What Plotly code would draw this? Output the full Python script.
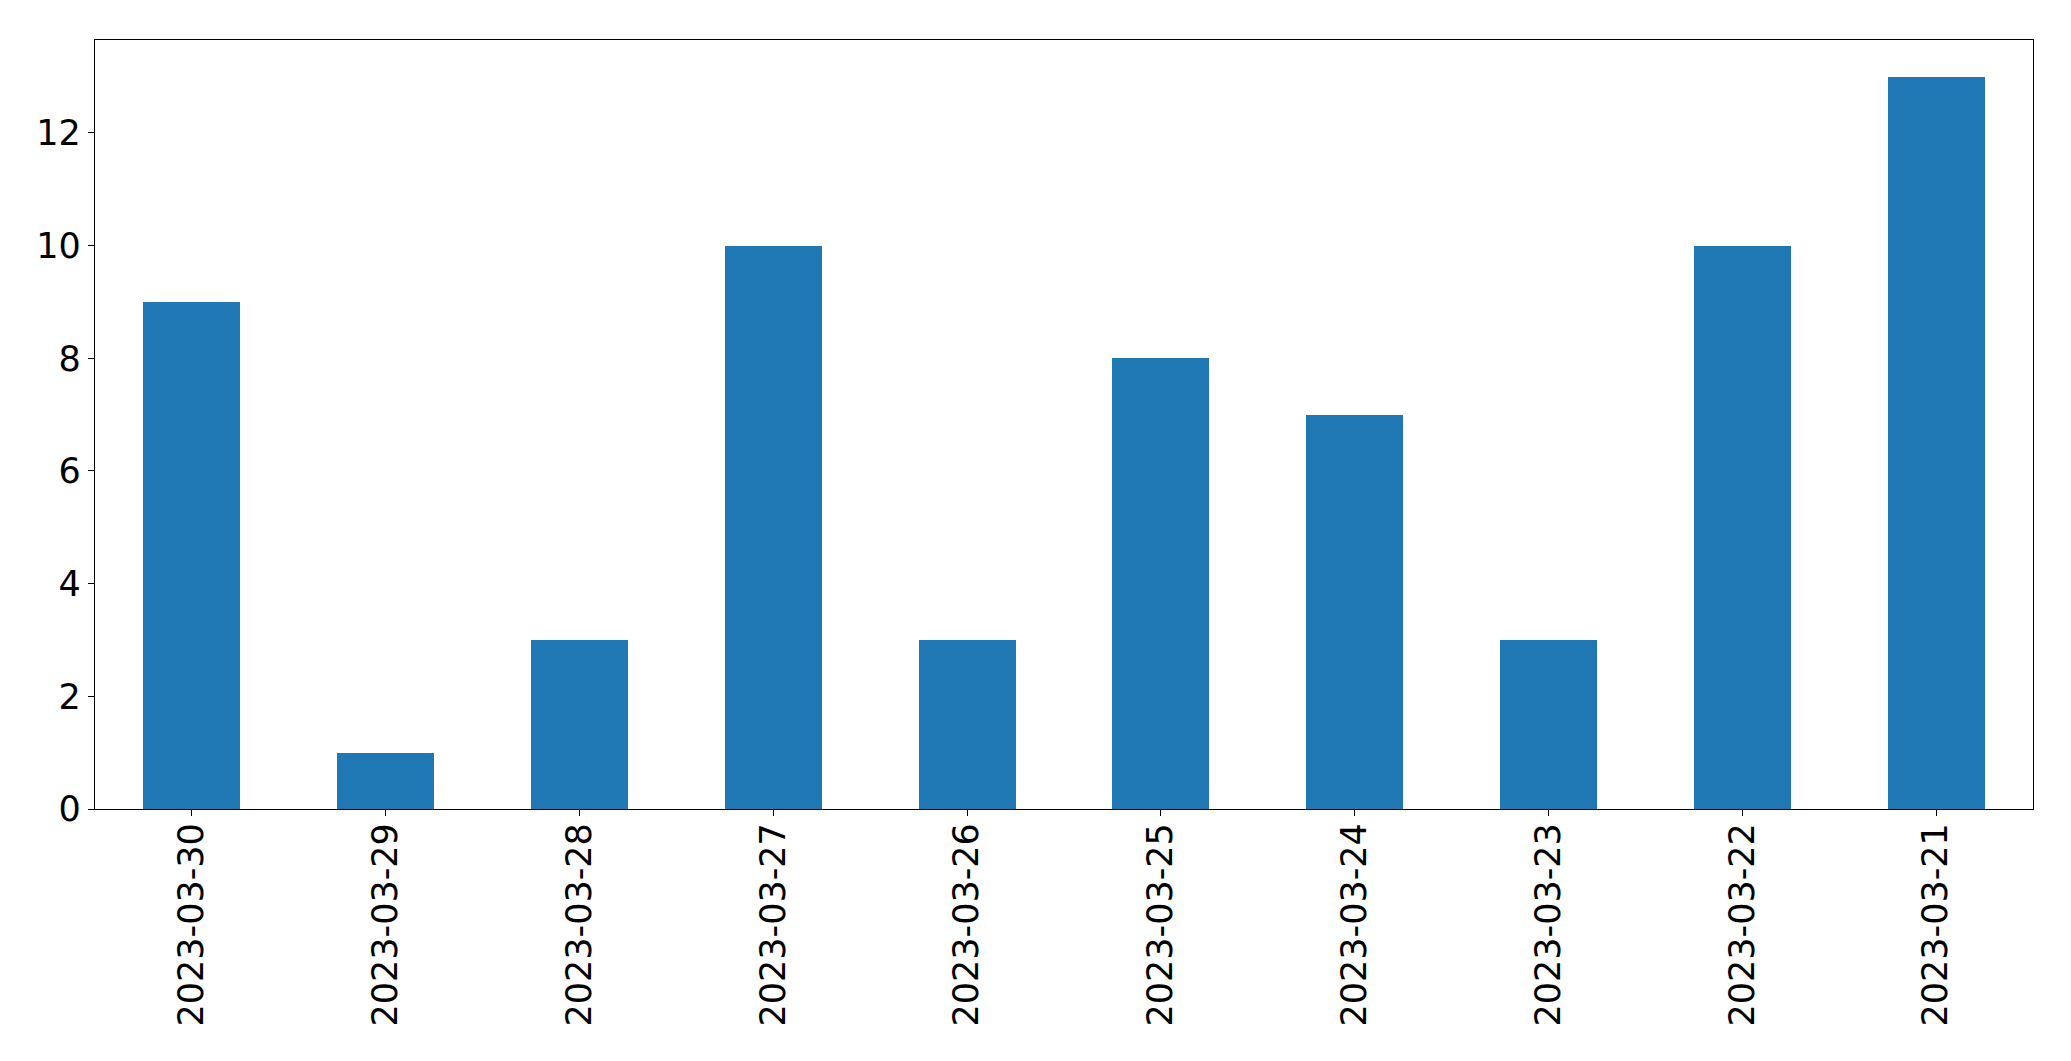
import plotly.graph_objects as go

dates = ["2023-03-30", "2023-03-29", "2023-03-28", "2023-03-27", "2023-03-26",
         "2023-03-25", "2023-03-24", "2023-03-23", "2023-03-22", "2023-03-21"]
counts = [9, 1, 3, 10, 3, 8, 7, 3, 10, 13]

fig = go.Figure(go.Bar(x=list(range(len(dates))), y=counts, width=0.5,
                       marker=dict(color="#1f77b4", line=dict(width=0))))

# page body has an 8px default margin; compensate
W, H = 2063, 1053
L, R, T, B = 86.5, 38.3, 31.5, 252
fig.update_layout(
    width=W, height=H,
    margin=dict(l=L, r=R, t=T, b=B, pad=0),
    plot_bgcolor="white", paper_bgcolor="white",
    font=dict(family="DejaVu Sans", size=35, color="black"),
    showlegend=False,
    bargap=0,
)
fig.update_xaxes(
    range=[-0.5, 9.5], tickmode="array", tickvals=list(range(len(dates))), ticktext=dates,
    tickangle=-90, ticks="outside", ticklen=6, tickcolor="black",
    ticklabelstandoff=-7,
    showline=True, linecolor="black", linewidth=1.3, mirror=True,
    showgrid=False, zeroline=False, automargin=False,
)
fig.update_yaxes(
    range=[0, 13.65], tickmode="array", tickvals=[0, 2, 4, 6, 8, 10, 12],
    ticks="outside", ticklen=6, tickcolor="black",
    showline=True, linecolor="black", linewidth=1.3, mirror=True,
    showgrid=False, zeroline=False, automargin=False,
)
fig.write_html("out.html")
